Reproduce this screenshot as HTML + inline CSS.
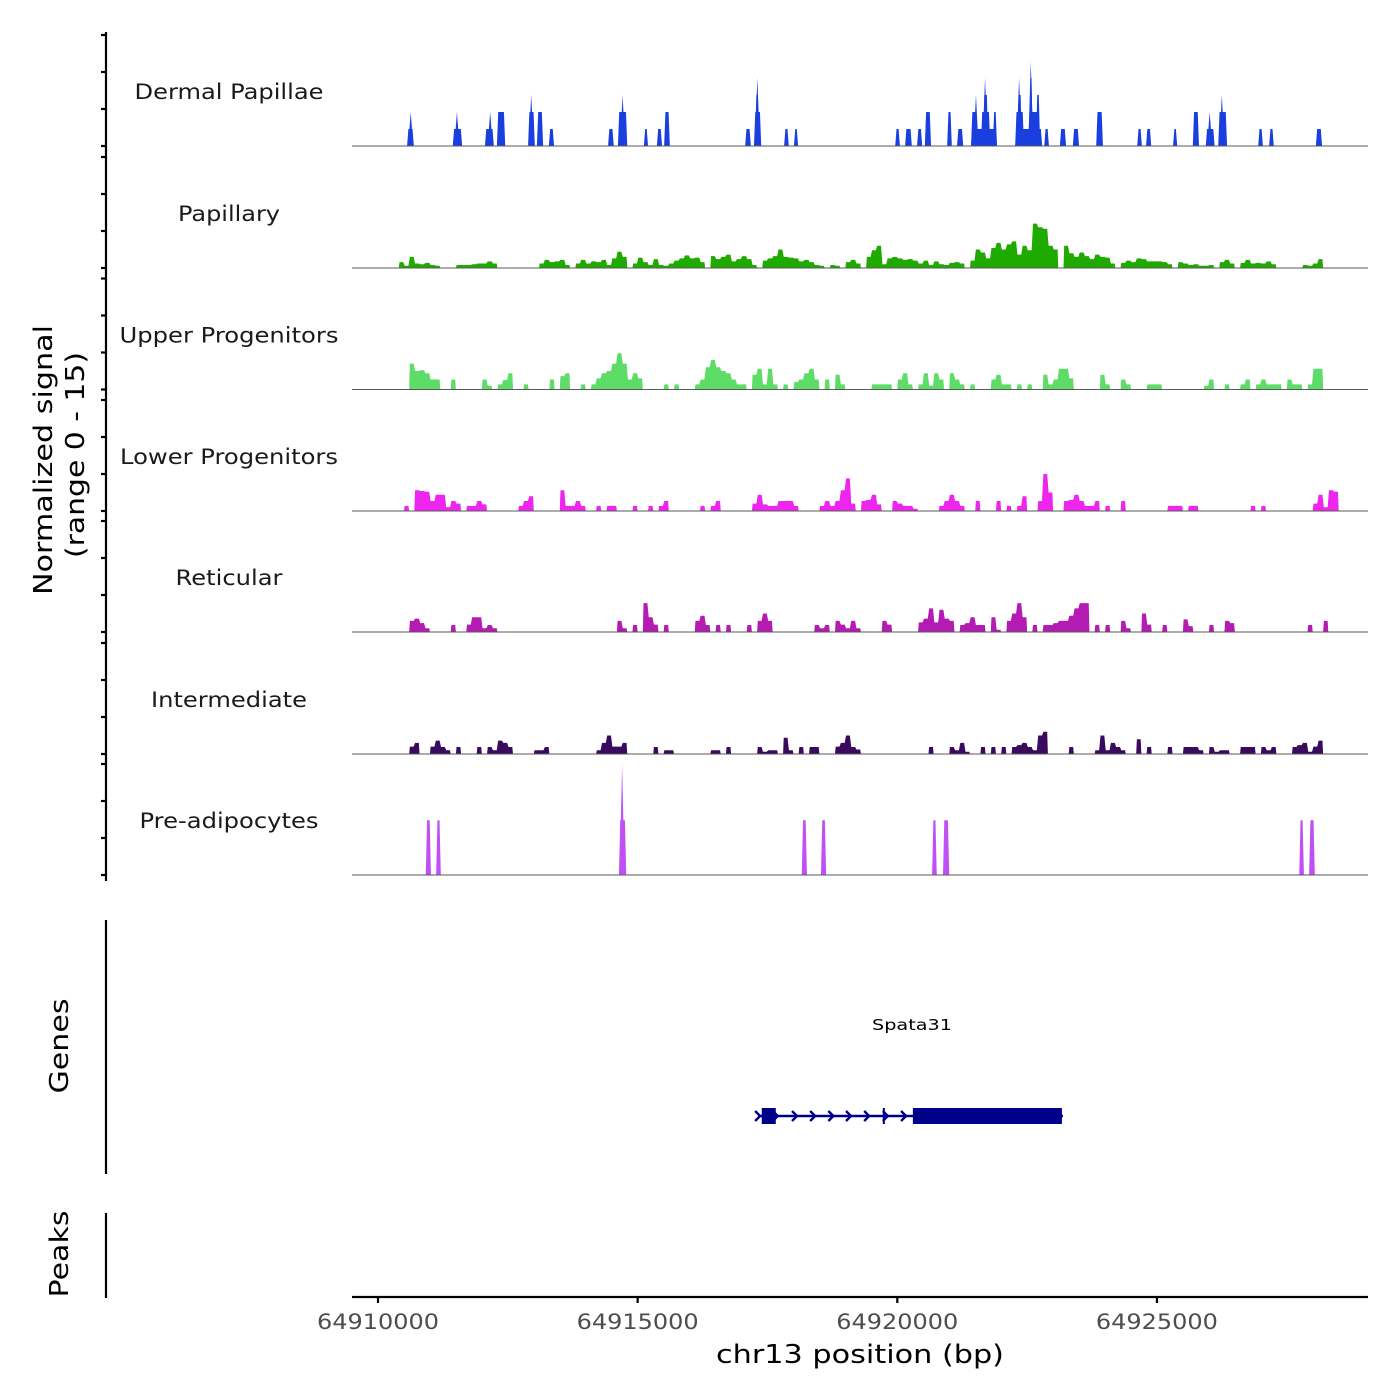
<!DOCTYPE html>
<html><head><meta charset="utf-8"><style>
html,body{margin:0;padding:0;background:#fff}
svg{display:block;font-family:"DejaVu Sans","Liberation Sans",sans-serif}
</style></head><body>
<svg id="chart" width="1400" height="1400" viewBox="0 0 1400 1400" xmlns="http://www.w3.org/2000/svg">
<g id="tracks"></g>
<g id="genes"></g>
<g id="axes"></g>
</svg>
<script>
// ---- data (x in kb offset from 64,910,000; y in normalized signal 0-15) ----
const trackNames = ["Dermal Papillae","Papillary","Upper Progenitors","Lower Progenitors","Reticular","Intermediate","Pre-adipocytes"];
const trackColors = ["#1a3fdf","#1faa00","#5ddc68","#ee25ee","#b31bb3","#3a0a5e","#c050f5"];
const binWidthKb = 0.1;
// peaks: [startKb, endKb, value]
const dermalPeaks = [[0.56,0.69,2.3],[0.60,0.66,4.6],[1.44,1.62,2.3],[1.50,1.54,4.6],[2.06,2.23,2.3],[2.14,2.18,4.6],[2.29,2.45,4.6],[2.89,3.02,4.6],[2.93,2.97,6.9],[3.06,3.18,4.6],[3.29,3.39,2.3],[4.43,4.54,2.3],[4.62,4.80,4.6],[4.68,4.74,6.9],[5.12,5.20,2.3],[5.37,5.47,2.3],[5.51,5.62,4.6],[7.07,7.18,2.3],[7.24,7.38,4.6],[7.26,7.34,6.9],[7.29,7.32,9.2],[7.82,7.91,2.3],[8.01,8.09,2.3],[9.96,10.05,2.3],[10.15,10.28,2.3],[10.38,10.48,2.3],[10.53,10.65,4.6],[10.96,11.05,4.6],[11.15,11.27,2.3],[11.42,11.92,2.3],[11.42,11.53,4.6],[11.50,11.53,6.9],[11.61,11.79,4.6],[11.65,11.75,6.9],[11.67,11.71,9.2],[11.84,11.92,4.6],[12.27,12.79,2.3],[12.27,12.44,4.6],[12.31,12.40,6.9],[12.33,12.36,9.2],[12.52,12.75,4.6],[12.54,12.61,9.2],[12.55,12.59,11.4],[12.67,12.75,6.9],[12.83,12.92,2.3],[13.13,13.25,2.3],[13.38,13.50,2.3],[13.83,13.96,4.6],[14.62,14.71,2.3],[14.79,14.89,2.3],[15.31,15.39,2.3],[15.69,15.81,4.6],[15.94,16.11,2.3],[16.00,16.03,4.6],[16.18,16.35,4.6],[16.23,16.27,6.9],[16.95,17.04,2.3],[17.16,17.25,2.3],[18.06,18.18,2.3]];
const papillaryBins = [0,0,0,0,0.8,0.3,1.5,0.6,0.5,0.7,0.4,0.3,0,0,0,0.4,0.4,0.4,0.5,0.6,0.6,0.9,0.6,0,0,0,0,0,0,0,0,0.6,1.1,0.8,0.9,1.1,0.4,0,0.6,1.1,0.6,0.9,0.8,1.1,0.4,1.3,2.2,1.5,0,0.6,1.4,0.8,0.4,1.2,0.4,0.3,0.6,1.0,1.3,1.7,1.3,1.4,0.8,0,1.6,1.2,1.5,1.8,0.9,1.2,1.6,1.2,0.4,0,1.0,1.3,1.6,2.5,1.5,1.4,1.3,0.9,1.1,0.8,0.4,0.3,0,0.4,0.3,0,0.8,1.1,0.6,0,1.5,2.4,3.0,0.5,1.3,1.5,1.3,1.1,1.2,1.0,0.6,1.0,0.4,0.9,0.5,0.4,0.7,0.8,0.6,0,1.0,2.5,2.1,1.3,2.7,3.4,2.5,3.2,3.6,1.8,3.0,2.4,6.0,5.5,5.3,3.0,2.5,0,3.0,2.0,1.5,2.1,1.6,1.2,1.8,1.5,1.4,0.6,0,0.7,1.0,0.8,1.3,1.2,0.9,0.9,0.9,0.8,0.5,0,0.8,0.6,0.4,0.5,0.3,0.3,0.4,0,0.8,1.1,0.6,0,0.7,1.1,0.6,0.7,0.6,0.9,0.5,0,0,0,0,0,0.4,0.3,0.6,1.2,0];
const upperBins = [0,0,0,0,0,0,3.5,2.5,2.6,2.2,1.35,1.35,0,0,1.35,0,0,0,0,0,1.35,0.5,0,0.7,1.3,2.2,0,0,0.7,0,0,0,0,1.35,0,1.8,2.2,0,0,0.7,0,0.7,1.5,2.2,2.5,3.5,4.9,3.5,1.35,2.2,1.5,0,0,0,0,0.7,0,0.7,0,0,0,0.7,1.35,3.0,4.0,3.0,2.5,2.2,1.35,0.7,0.7,0,2.0,2.8,0.7,2.8,0.7,0,0.7,0,1.0,1.35,2.2,2.8,1.35,0,1.35,0,2.0,0.7,0,0,0,0,0,0.7,0.7,0.7,0.7,0,1.35,2.2,0.7,0,0.7,2.2,0.5,2.2,1.35,0,2.2,1.35,0.7,0,0.7,0,0,0,1.35,2.0,0.7,0.7,0,0.7,0,0.7,0,0,2.0,0.7,1.35,2.8,2.8,1.5,0,0,0,0,0,2.0,0.7,0,0,1.35,0.7,0,0,0,0.7,0.7,0.7,0,0,0,0,0,0,0,0,0.5,1.35,0,0,0.7,0,0,0.7,1.35,0,0.7,1.35,0.7,0.7,0.7,0,1.35,0.7,0.7,0,0.7,2.8,2.8,0];
const lowerBins = [0,0,0,0,0,0.7,0,2.8,2.7,2.6,1.35,2.2,2.2,0.5,1.35,1.0,0,0.7,0.7,1.35,0.9,0,0,0,0,0,0,0.7,1.35,2.0,0,0,0,0,0,2.8,0.7,0.7,1.35,0.7,0,0,0.7,0,0.7,0.7,0,0,0,0.7,0,0,0.7,0,0.7,1.35,0,0,0,0,0,0,0.7,0,0.7,1.35,0,0,0,0,0,0,1.0,2.2,0.9,0.7,0.7,1.35,1.35,1.35,0.7,0,0,0,0,0.7,1.35,0.7,1.35,2.8,4.4,1.0,0,1.35,1.5,2.2,0.9,0,0,1.35,1.0,0.7,0.7,0.3,0,0,0,0,0.7,1.35,2.2,1.35,0.7,0,0,1.35,0,0,0,1.35,0,0.7,0,0.7,2.0,0,0,1.35,5.0,2.5,0,0,1.35,1.5,2.2,1.35,0.7,0.7,1.35,0,0.7,0,0,1.35,0,0,0,0,0,0,0,0,0.7,0.7,0.7,0,0.7,0.7,0,0,0,0,0,0,0,0,0,0,0.7,0,0.7,0,0,0,0,0,0,0,0,0,1.0,2.2,0.5,2.8,2.6,0];
const reticularBins = [0,0,0,0,0,0,1.5,1.8,1.2,0.5,0,0,0,0,0.95,0,0,1.0,2.0,2.0,0.5,0.95,0.5,0,0,0,0,0,0,0,0,0,0,0,0,0,0,0,0,0,0,0,0,0,0,0,1.5,0.5,0,0.95,0,3.9,2.0,1.0,0,0.95,0,0,0,0,0,1.5,2.2,0.95,0,0.95,0,0.95,0,0,0,0.95,0,1.5,2.5,1.5,0,0,0,0,0,0,0,0,0.95,0.5,0.95,0,1.5,1.0,0.5,1.5,0.5,0,0,0,0,1.5,1.0,0,0,0,0,0,1.3,1.8,3.2,1.3,3.0,1.8,1.5,0,0.95,1.2,2.0,0.95,0.95,0,2.0,0.3,0,1.5,2.5,3.9,2.0,0,0.95,0,0.95,0.95,1.2,1.5,1.5,2.2,3.2,3.9,3.9,0,0.95,0,0.95,0,0,1.5,0.5,0,0,2.5,1.0,0,0,0.95,0,0,0,1.7,0.8,0,0,0,0.95,0,0,1.5,1.2,0,0,0,0,0,0,0,0,0,0,0,0,0,0,0.95,0,0,1.5,0];
const intermediateBins = [0,0,0,0,0,0,1.0,1.5,0,0,1.0,1.8,0.95,0.5,0,0.95,0,0,0,0.95,0,0.95,0.5,1.8,1.5,0.95,0,0,0,0,0.5,0.5,0.95,0,0,0,0,0,0,0,0,0,0.5,1.5,2.5,1.0,1.0,1.5,0,0,0,0,0,0.95,0,0.5,0.5,0,0,0,0,0,0,0,0.5,0.5,0,0.95,0,0,0,0,0,0.95,0.3,0.5,0.5,0,2.2,0.5,0,0.95,0,0.95,0.95,0,0,0,1.0,1.5,2.5,0.95,0.6,0,0,0,0,0,0,0,0,0,0,0,0,0,0.95,0,0,0,0.95,0.5,1.5,0.3,0,0,0.95,0,0.95,0,0.95,0,0.95,1.2,1.5,0.95,0.5,2.5,3.0,0,0,0,0,0.95,0,0,0,0,0.5,2.5,0.5,1.5,0.95,0.5,0,0,2.0,0,0.95,0,0,0,0.95,0,0,0.95,0.95,0.95,0.5,0,0.95,0.3,0.5,0.5,0,0,0.95,0.95,0.95,0,0.95,0.5,0.95,0,0,0,0.95,1.2,1.5,0.3,1.0,1.8,0];
const preadipocytePeaks = [[0.92,1.02,7.4],[1.12,1.21,7.4],[4.64,4.78,7.4],[4.67,4.73,14.9],[8.16,8.26,7.4],[8.53,8.63,7.4],[10.67,10.76,7.4],[10.88,11.00,7.4],[17.74,17.83,7.4],[17.93,18.04,7.4]];
const xTicksKb = [0,5,10,15];
const xTickLabels = ["64910000","64915000","64920000","64925000"];
const yTicks = [0,5,10,15];
const geneName = "Spata31";
const geneSpanKb = [7.32,13.19];
const geneExonsKb = [[7.39,7.66],[9.72,9.76],[10.30,13.17]];
const geneArrowsKb = [7.32,7.66,8.03,8.38,8.73,9.07,9.42,9.78,10.13];

// ---- scales ----
const X0 = 378, PXPERKB = 51.93;
const xs = kb => X0 + kb * PXPERKB;
const baselines = [146,268,389.5,511,632,754,875];
const PXPERUNIT = 7.4;
const ys = (t, v) => baselines[t] - v * PXPERUNIT;
const NS = "http://www.w3.org/2000/svg";
function mk(tag, attrs, parent){const e=document.createElementNS(NS,tag);for(const k in attrs)e.setAttribute(k,attrs[k]);parent.appendChild(e);return e;}

const tracks = document.getElementById('tracks');
const binTracks = {1:papillaryBins,2:upperBins,3:lowerBins,4:reticularBins,5:intermediateBins};
const peakTracks = {0:dermalPeaks,6:preadipocytePeaks};
const labelWidths = [189,102,219,218,107,156,179];

for (let t = 0; t < 7; t++) {
  const g = mk('g', {}, tracks);
  
  
  const lbl = mk('text', {x:229, y:baselines[t]-47, 'text-anchor':'middle', 'font-size':'21', fill:'#1a1a1a', textLength:labelWidths[t], lengthAdjust:'spacingAndGlyphs'}, g);
  lbl.textContent = trackNames[t];
  
  
  if (binTracks[t]) {
    const arr = binTracks[t];
    const b = baselines[t];
    let d = '';
    let i = 0;
    while (i < arr.length) {
      if (arr[i] > 0) {
        let x0 = xs(i*binWidthKb);
        d += `M${x0.toFixed(2)},${b}`;
        while (i < arr.length && arr[i] > 0) {
          const xa = xs(i*binWidthKb), xb = xs((i+1)*binWidthKb), y = ys(t, arr[i]);
          d += `L${(xa+0.7).toFixed(2)},${y.toFixed(2)}L${(xb-0.7).toFixed(2)},${y.toFixed(2)}`;
          i++;
        }
        d += `L${xs(i*binWidthKb).toFixed(2)},${b}Z`;
      } else i++;
    }
    const p = mk('path', {d, fill:trackColors[t]}, g);
    
    
  } else {
    peakTracks[t].forEach(pk => {
      let x0 = xs(pk[0]), x1 = xs(pk[1]);
      const y = ys(t, pk[2]), b = baselines[t];
      let pts;
      if (x1 - x0 < 3.5) {
        const c = (x0 + x1) / 2;
        pts = `${c-2.5},${b} ${c},${y} ${c+2.5},${b}`;
      } else {
        const s = Math.min(1.3, (x1-x0)/2 - 0.3);
        pts = `${x0},${b} ${x0+s},${y} ${x1-s},${y} ${x1},${b}`;
      }
      const poly = mk('polygon', {points:pts, fill:trackColors[t]}, g);
      
      
    });
  }
  const base = mk('line', {x1:352, x2:1368, y1:baselines[t], y2:baselines[t], stroke:'#5a5a5a', 'stroke-width':1.1}, g);
  
  
}

// ---- genes ----
const genes = document.getElementById('genes');
const GY = 1116, GC = '#00008b';
const gl = mk('line', {x1:xs(geneSpanKb[0]), x2:xs(geneSpanKb[1]), y1:GY, y2:GY, stroke:GC, 'stroke-width':2.4}, genes);


geneExonsKb.forEach(e => {
  const r = mk('rect', {x:xs(e[0]), y:GY-8, width:xs(e[1])-xs(e[0]), height:16, fill:GC}, genes);
  
  
});
geneArrowsKb.forEach(a => {
  const x = xs(a);
  const p = mk('path', {d:`M${x-3},${GY-5}L${x+2},${GY}L${x-3},${GY+5}`, stroke:GC, 'stroke-width':2.4, fill:'none'}, genes);
  
  
});
const gt = mk('text', {x:912, y:1030, 'text-anchor':'middle', 'font-size':'15', fill:'#000', textLength:80, lengthAdjust:'spacingAndGlyphs'}, genes);
gt.textContent = geneName;



// ---- axes ----
const axes = document.getElementById('axes');
function line(x1,y1,x2,y2,w,name){const l=mk('line',{x1,y1,x2,y2,stroke:'#000','stroke-width':w},axes);return l;}
line(106,32,106,881,2.2,'coverage-y-axis');
line(106,920,106,1174,2.2,'genes-y-axis');
line(106,1213,106,1298,2.2,'peaks-y-axis');
for (let t = 0; t < 7; t++) {
  yTicks.forEach(v => { line(101, ys(t, v), 106, ys(t, v), 2.2, 'y-tick'); });
}
line(352,1297,1368,1297,2.2,'x-axis');
xTicksKb.forEach((k, i) => {
  line(xs(k),1297,xs(k),1303,2.2,'x-tick');
  const tx = mk('text', {x:xs(k), y:1329, 'text-anchor':'middle', 'font-size':'21', fill:'#4d4d4d', textLength:122, lengthAdjust:'spacingAndGlyphs'}, axes);
  tx.textContent = xTickLabels[i];
  
  
});
function rtext(txt, x, y, size, len, name){
  const t = mk('text', {x:0, y:0, transform:`translate(${x},${y}) rotate(-90)`, 'text-anchor':'middle', 'font-size':size, fill:'#000', textLength:len, lengthAdjust:'spacingAndGlyphs'}, axes);
  t.textContent = txt;
  
  
}
rtext('Normalized signal', 52, 460, 26, 270, 'y-axis-title');
rtext('(range 0 - 15)', 84, 455, 26, 206, 'y-axis-subtitle');
rtext('Genes', 68, 1046, 26, 95, 'genes-axis-title');
rtext('Peaks', 68, 1254, 26, 87, 'peaks-axis-title');
const xt = mk('text', {x:860, y:1363, 'text-anchor':'middle', 'font-size':'26', fill:'#000', textLength:288, lengthAdjust:'spacingAndGlyphs'}, axes);
xt.textContent = 'chr13 position (bp)';


</script>
</body></html>
